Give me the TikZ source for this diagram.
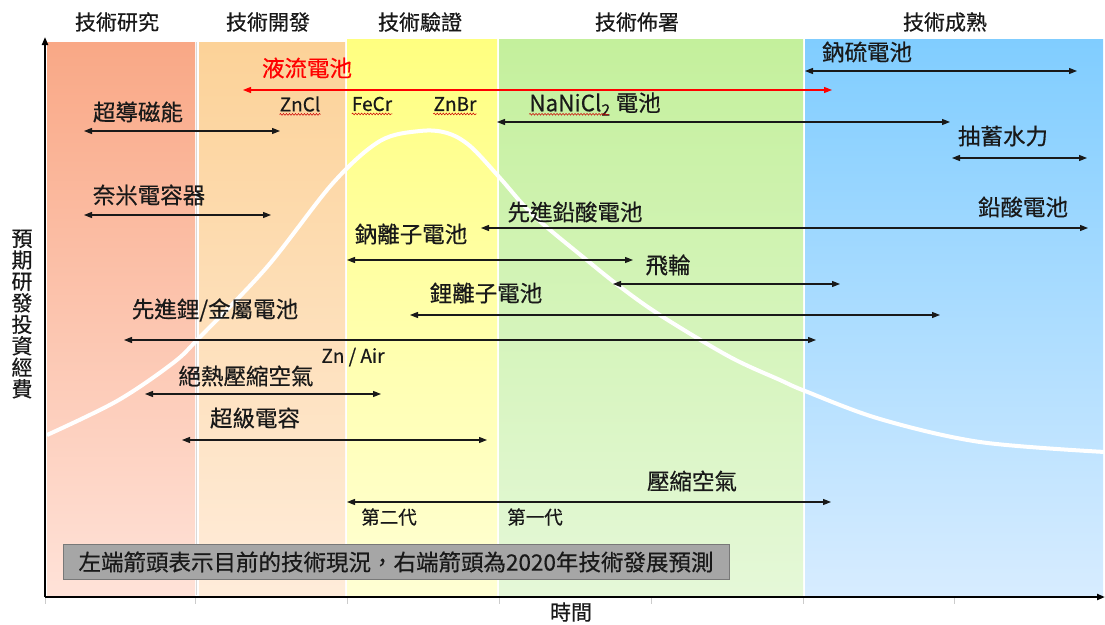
\documentclass[tikz,border=0pt]{standalone}
\usepackage{fontspec}
\newfontfamily\cjk[FakeBold=0.5]{Noto Sans CJK TC}
\usetikzlibrary{arrows.meta,decorations.pathmorphing}
\definecolor{bAt}{RGB}{249,168,134}\definecolor{bAb}{RGB}{255,226,216}
\definecolor{bBt}{RGB}{252,210,152}\definecolor{bBb}{RGB}{255,236,218}
\definecolor{bCt}{RGB}{255,255,128}\definecolor{bCb}{RGB}{255,255,212}
\definecolor{bDt}{RGB}{196,240,156}\definecolor{bDb}{RGB}{229,248,216}
\definecolor{bEt}{RGB}{128,205,255}\definecolor{bEb}{RGB}{215,236,255}
\definecolor{ink}{RGB}{25,25,25}
\definecolor{boxfill}{RGB}{166,166,166}
\definecolor{boxline}{RGB}{120,120,120}
\begin{document}
\begin{tikzpicture}[x=1pt,y=-1pt,
  lbl/.style={font=\cjk\fontsize{22.5}{26}\selectfont, inner sep=0pt, text=ink},
  head/.style={font=\cjk\fontsize{21}{25}\selectfont, inner sep=0pt, text=ink},
  small/.style={font=\cjk\fontsize{19}{22}\selectfont, inner sep=0pt, text=ink},
  tiny/.style={font=\cjk\fontsize{18.5}{21}\selectfont, inner sep=0pt, text=ink},
  dbl/.style={line width=1.1pt, draw=ink, {Triangle[length=8pt,width=6pt]}-{Triangle[length=8pt,width=6pt]}},
  redarr/.style={line width=1.1pt, draw=red, {Triangle[length=8pt,width=6pt]}-{Triangle[length=8pt,width=6pt]}},
  squig/.style={draw=red!80!black, line width=0.5pt, decorate, decoration={snake, amplitude=0.9pt, segment length=3pt}},
  axis/.style={line width=2.2pt, draw=black, -{Triangle[length=8pt,width=6pt]}},
  tick/.style={draw=black!20, line width=0.6pt}]
\useasboundingbox (0,0) rectangle (1105,624);
\fill[white] (0,0) rectangle (1105,624);
% bands
\shade[top color=bAt, bottom color=bAb] (47,42) rectangle (195,595);
\draw[black!15, line width=0.6pt] (196,42) -- (196,595);
\shade[top color=bBt, bottom color=bBb] (199,42) rectangle (345,595);
\shade[top color=bCt, bottom color=bCb] (347,39) rectangle (497,595);
\shade[top color=bDt, bottom color=bDb] (499,39) rectangle (803,595);
\shade[top color=bEt, bottom color=bEb] (805,39) rectangle (1103,595);
% curve
\draw[white, line width=4pt] plot[smooth, tension=0.55] coordinates {(47,435) (117,401) (173,363) (200,337) (267,267) (333,183) (380,141) (420,131) (447,133) (470,146) (500,178) (533,215) (583,257) (623,289) (663,317) (730,357) (780,380) (805,391) (880,419) (980,442) (1105,452)};
% headers
\node[head] (h1) at (117,22) {技術研究};
\node[head] (h2) at (268,22) {技術開發};
\node[head] (h3) at (420,22) {技術驗證};
\node[head] (h4) at (637,22) {技術佈署};
\node[head] (h5) at (945,22) {技術成熟};
% axes
\coordinate (o) at (45,597);
\coordinate (ytop) at (45,37);
\coordinate (xend) at (1105,597);
\foreach \t in {45,195,347,499,651,803,954} \draw[tick] (\t,598) -- (\t,604);
\draw[axis] (o) -- (ytop);
\draw[axis] (o) -- (xend);
\node[head] (xl) at (571,612) {時間};
\node[head, align=center, font=\cjk\fontsize{21}{21.5}\selectfont] (yl) at (22,314) {預\\期\\研\\發\\投\\資\\經\\費};
% labels
\node[lbl, text=red] (flow) at (307,68) {液流電池};
\node[small] (zncl) at (300,104) {ZnCl};
\node[small] (fecr) at (372,104) {FeCr};
\node[small] (znbr) at (455,104) {ZnBr};
\node[lbl] (nanicl) at (595,104) {NaNiCl\textsubscript{2} 電池};
\draw[squig] ([yshift=-3pt]zncl.base west) -- ([yshift=-3pt]zncl.base east);
\draw[squig] ([yshift=-3pt]fecr.base west) -- ([yshift=-3pt]fecr.base east);
\draw[squig] ([yshift=-3pt]znbr.base west) -- ([yshift=-3pt]znbr.base east);
\draw[squig] ([yshift=-3pt]nanicl.base west) -- ([yshift=-3pt,xshift=-52pt]nanicl.base east);
\node[lbl] (scm) at (138,112) {超導磁能};
\node[lbl] (nano) at (149,195) {奈米電容器};
\node[lbl] (nas) at (867,52) {鈉硫電池};
\node[lbl] (phs) at (1003,136) {抽蓄水力};
\node[lbl] (lead) at (1023,207) {鉛酸電池};
\node[lbl] (advlead) at (575,212) {先進鉛酸電池};
\node[lbl] (naion) at (411,234) {鈉離子電池};
\node[lbl] (fly) at (668,265) {飛輪};
\node[lbl] (liion) at (486,293) {鋰離子電池};
\node[lbl] (limetal) at (215,310) {先進鋰/金屬電池};
\node[small] (znair) at (353,357) {Zn / Air};
\node[lbl] (acaes) at (246,376) {絕熱壓縮空氣};
\node[lbl] (supcap) at (255,418) {超級電容};
\node[lbl] (caes) at (692,481) {壓縮空氣};
\node[tiny] (gen2) at (389,517) {第二代};
\node[tiny] (gen1) at (535,517) {第一代};
% arrows
\coordinate (a1l) at (84,131);  \coordinate (a1r) at (280,131);
\coordinate (a2l) at (84,215);  \coordinate (a2r) at (271,215);
\coordinate (a3l) at (243,90);  \coordinate (a3r) at (832,90);
\coordinate (a4l) at (497,122); \coordinate (a4r) at (950,122);
\coordinate (a5l) at (805,71);  \coordinate (a5r) at (1077,71);
\coordinate (a6l) at (952,158); \coordinate (a6r) at (1087,158);
\coordinate (a7l) at (481,228); \coordinate (a7r) at (1088,228);
\coordinate (a8l) at (347,260); \coordinate (a8r) at (633,260);
\coordinate (a9l) at (613,284); \coordinate (a9r) at (840,284);
\coordinate (a10l) at (410,315); \coordinate (a10r) at (940,315);
\coordinate (a11l) at (124,340); \coordinate (a11r) at (816,340);
\coordinate (a12l) at (145,394); \coordinate (a12r) at (381,394);
\coordinate (a13l) at (182,440); \coordinate (a13r) at (487,440);
\coordinate (a14l) at (347,502); \coordinate (a14r) at (831,502);
\draw[dbl] (a1l) -- (a1r);
\draw[dbl] (a2l) -- (a2r);
\draw[redarr] (a3l) -- (a3r);
\draw[dbl] (a4l) -- (a4r);
\draw[dbl] (a5l) -- (a5r);
\draw[dbl] (a6l) -- (a6r);
\draw[dbl] (a7l) -- (a7r);
\draw[dbl] (a8l) -- (a8r);
\draw[dbl] (a9l) -- (a9r);
\draw[dbl] (a10l) -- (a10r);
\draw[dbl] (a11l) -- (a11r);
\draw[dbl] (a12l) -- (a12r);
\draw[dbl] (a13l) -- (a13r);
\draw[dbl] (a14l) -- (a14r);
% note box
\node[lbl, fill=boxfill, draw=boxline, line width=0.8pt, minimum width=666pt, minimum height=35pt] (note) at (396,562) {左端箭頭表示目前的技術現況，右端箭頭為2020年技術發展預測};
\end{tikzpicture}
\end{document}
